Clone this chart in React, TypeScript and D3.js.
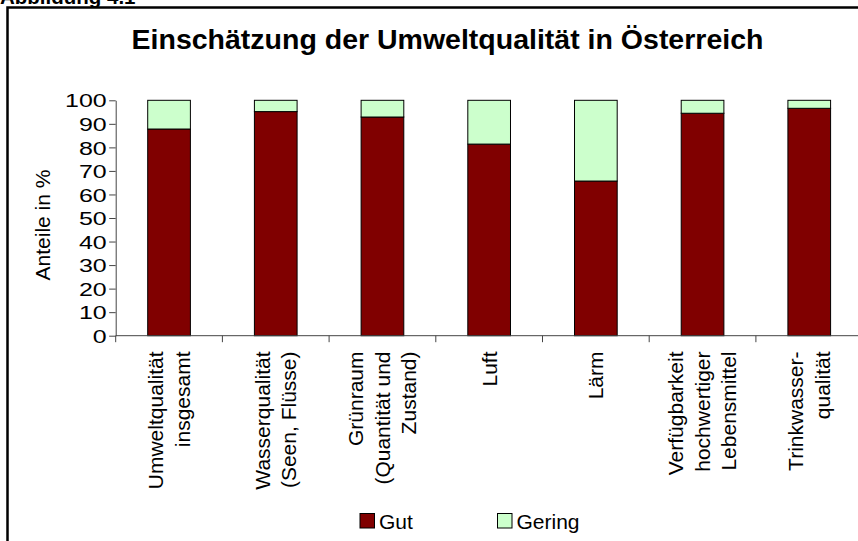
import React, { useEffect, useRef } from "react";
import * as d3 from "d3";

const categories = [
  ["Umweltqualität", "insgesamt"],
  ["Wasserqualität", "(Seen, Flüsse)"],
  ["Grünraum", "(Quantität und", "Zustand)"],
  ["Luft"],
  ["Lärm"],
  ["Verfügbarkeit", "hochwertiger", "Lebensmittel"],
  ["Trinkwasser-", "qualität"],
];
const gut = [87.8, 95.2, 92.9, 81.4, 65.7, 94.5, 96.6];
const gering = [12.2, 4.8, 7.1, 18.6, 34.3, 5.5, 3.4];
const seriesNames = ["Gut", "Gering"];
const colors = ["#800000", "#CCFFCC"];
const yTicks = [0, 10, 20, 30, 40, 50, 60, 70, 80, 90, 100];

const W = 858;
const H = 541;
const FONT = "'Liberation Sans', Arial, sans-serif";

export default function App() {
  const svgRef = useRef<SVGSVGElement>(null);

  useEffect(() => {
    const svg = d3.select(svgRef.current);
    svg.selectAll("*").remove();

    const x0 = 115.7;
    const step = 106.7;
    const keys = categories.map((c) => c.join(" "));

    const x = d3
      .scaleBand()
      .domain(keys)
      .range([x0, x0 + step * keys.length])
      .paddingInner(0.6)
      .paddingOuter(0.3);
    const y = d3.scaleLinear().domain([0, 100]).range([335.7, 100.3]);

    // frame (right and bottom edges fall outside the picture)
    svg
      .append("rect")
      .attr("x", 7.5)
      .attr("y", 7.5)
      .attr("width", W + 20)
      .attr("height", H + 20)
      .attr("fill", "none")
      .attr("stroke", "#000")
      .attr("stroke-width", 2.5);

    // caption above the frame, cut at the top edge
    svg
      .append("text")
      .attr("x", 0)
      .attr("y", 4)
      .attr("font-family", FONT)
      .attr("font-weight", "bold")
      .attr("font-size", 20.5)
      .text("Abbildung 4.1");

    // title
    svg
      .append("text")
      .attr("x", 447.5)
      .attr("y", 49)
      .attr("text-anchor", "middle")
      .attr("font-family", FONT)
      .attr("font-weight", "bold")
      .attr("font-size", 28.5)
      .text("Einschätzung der Umweltqualität in Österreich");

    // stacked bars
    const rows = keys.map((k, i) => ({ k, gut: gut[i], gering: gering[i] }));
    const layers = d3.stack<any>().keys(["gut", "gering"])(rows);
    layers.forEach((layer, li) => {
      svg
        .append("g")
        .selectAll("rect")
        .data(layer)
        .enter()
        .append("rect")
        .attr("x", (d: any) => x(d.data.k)!)
        .attr("y", (d) => y(d[1]))
        .attr("width", x.bandwidth())
        .attr("height", (d) => y(d[0]) - y(d[1]))
        .attr("fill", colors[li])
        .attr("stroke", "#000")
        .attr("stroke-width", 1);
    });

    // y axis
    const yAxis = svg
      .append("g")
      .attr("transform", `translate(${x0},0)`)
      .call(d3.axisLeft(y).tickValues(yTicks).tickSize(6.5).tickSizeOuter(0));
    yAxis.select(".domain").attr("stroke", "#444");
    yAxis.selectAll(".tick line").attr("stroke", "#444");
    yAxis
      .selectAll(".tick text")
      .attr("x", 0)
      .attr("dy", "0.36em")
      .attr("transform", "translate(-9,0) scale(1.35,1)")
      .attr("font-family", FONT)
      .attr("font-size", 18.5)
      .attr("fill", "#000");

    // x axis, ticks between categories
    const xAxis = svg.append("g").attr("transform", `translate(0,${y(0)})`);
    xAxis
      .append("line")
      .attr("x1", x0)
      .attr("x2", x0 + step * keys.length)
      .attr("stroke", "#444");
    xAxis
      .selectAll(".sep")
      .data(d3.range(keys.length + 1))
      .enter()
      .append("line")
      .attr("x1", (i) => x0 + i * step)
      .attr("x2", (i) => x0 + i * step)
      .attr("y2", 6.5)
      .attr("stroke", "#444");

    // rotated category labels
    const lh = 26.5;
    const labelFs = 21;
    categories.forEach((lines, i) => {
      const cx = x(keys[i])! + x.bandwidth() / 2;
      const t = svg
        .append("text")
        .attr("transform", `translate(${cx},351.5) rotate(-90)`)
        .attr("text-anchor", "end")
        .attr("font-family", FONT)
        .attr("font-size", labelFs);
      lines.forEach((ln, j) => {
        t.append("tspan")
          .attr("x", 0)
          .attr("y", (j - (lines.length - 1) / 2) * lh)
          .attr("dy", "0.35em")
          .text(ln);
      });
    });

    // y axis title
    svg
      .append("text")
      .attr("transform", `translate(43,225) rotate(-90)`)
      .attr("text-anchor", "middle")
      .attr("dy", "0.35em")
      .attr("font-family", FONT)
      .attr("font-size", 21)
      .text("Anteile in %");

    // legend
    const legendX = [360, 497.5];
    seriesNames.forEach((name, i) => {
      svg
        .append("rect")
        .attr("x", legendX[i])
        .attr("y", 513.5)
        .attr("width", 14.5)
        .attr("height", 14.5)
        .attr("fill", colors[i])
        .attr("stroke", "#000")
        .attr("stroke-width", 1);
      svg
        .append("text")
        .attr("x", legendX[i] + 19)
        .attr("y", 528.5)
        .attr("font-family", FONT)
        .attr("font-size", 21)
        .text(name);
    });
  }, []);

  return (
    <svg
      ref={svgRef}
      width={W}
      height={H}
      style={{ position: "absolute", left: 0, top: 0, background: "#fff" }}
    ></svg>
  );
}
